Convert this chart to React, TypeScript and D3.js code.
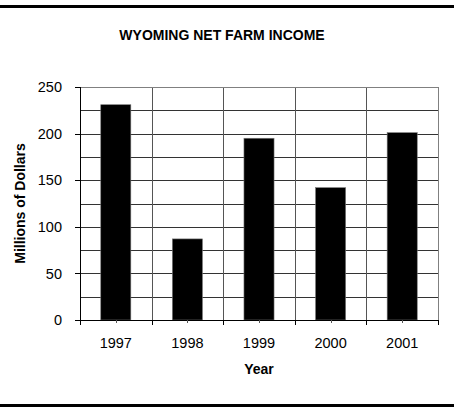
import React from "react";
import * as d3 from "d3";

const years = ["1997", "1998", "1999", "2000", "2001"];
const income = [231, 87, 195, 142, 201];
const yTicks = [0, 50, 100, 150, 200, 250];
const gridValues = [25, 50, 75, 100, 125, 150, 175, 200, 225];

const W = 454;
const H = 407;
const left = 80;
const right = 438;
const top = 87;
const bottom = 320;
const font = "'Liberation Sans', Arial, sans-serif";

export default function App() {
  const x = d3
    .scaleBand<string>()
    .domain(years)
    .range([left, right])
    .paddingInner(0.58)
    .paddingOuter(0.29);
  const y = d3.scaleLinear().domain([0, 250]).range([bottom, top]);
  const step = x.step();
  const boundaries = d3.range(years.length + 1).map((i) => left + i * step);

  return (
    <svg
      width={W}
      height={H}
      style={{ position: "absolute", left: 0, top: 0, background: "#fff" }}
    >
      <rect x={0} y={5} width={W} height={3} fill="#000" />
      <rect x={0} y={404} width={W} height={3} fill="#000" />
      <text
        x={222}
        y={40}
        textAnchor="middle"
        fontFamily={font}
        fontWeight="bold"
        fontSize={14}
      >
        WYOMING NET FARM INCOME
      </text>

      {gridValues.map((v) => (
        <line
          key={"h" + v}
          x1={left}
          x2={right}
          y1={Math.round(y(v)) + 0.5}
          y2={Math.round(y(v)) + 0.5}
          stroke="#333"
          strokeWidth={1}
        />
      ))}
      {boundaries.slice(1, -1).map((b, i) => (
        <line
          key={"v" + i}
          x1={Math.round(b) + 0.5}
          x2={Math.round(b) + 0.5}
          y1={top}
          y2={bottom}
          stroke="#555"
          strokeWidth={1}
        />
      ))}
      <line x1={left} x2={right + 0.5} y1={top + 0.5} y2={top + 0.5} stroke="#808080" />
      <line x1={right + 0.5} x2={right + 0.5} y1={top} y2={bottom} stroke="#808080" />

      {years.map((yr, i) => (
        <rect
          key={yr}
          x={x(yr)}
          y={y(income[i])}
          width={x.bandwidth()}
          height={bottom - y(income[i])}
          fill="#000"
          stroke="#777"
          strokeWidth={0.6}
        />
      ))}

      <line x1={left + 0.5} x2={left + 0.5} y1={top} y2={bottom} stroke="#000" />
      <line x1={left} x2={right + 1} y1={bottom + 0.5} y2={bottom + 0.5} stroke="#000" />
      {yTicks.map((t) => (
        <g key={"yt" + t}>
          <line
            x1={left - 5}
            x2={left}
            y1={Math.round(y(t)) + 0.5}
            y2={Math.round(y(t)) + 0.5}
            stroke="#000"
          />
          <text
            x={62}
            y={y(t)}
            dy="0.36em"
            textAnchor="end"
            fontFamily={font}
            fontSize={14.5}
          >
            {t}
          </text>
        </g>
      ))}
      {boundaries.map((b, i) => (
        <line
          key={"xt" + i}
          x1={Math.round(b) + 0.5}
          x2={Math.round(b) + 0.5}
          y1={bottom}
          y2={bottom + 5}
          stroke="#000"
        />
      ))}
      {years.map((yr) => {
        const cx = (x(yr) as number) + x.bandwidth() / 2;
        return (
          <g key={"xl" + yr}>
            <line
              x1={Math.round(cx) + 0.5}
              x2={Math.round(cx) + 0.5}
              y1={bottom}
              y2={bottom + 3}
              stroke="#555"
            />
            <text
              x={cx}
              y={348}
              textAnchor="middle"
              fontFamily={font}
              fontSize={14.5}
            >
              {yr}
            </text>
          </g>
        );
      })}
      <text
        x={(left + right) / 2}
        y={374}
        textAnchor="middle"
        fontFamily={font}
        fontWeight="bold"
        fontSize={14}
      >
        Year
      </text>
      <text
        transform={`translate(25, ${(top + bottom) / 2}) rotate(-90)`}
        textAnchor="middle"
        fontFamily={font}
        fontWeight="bold"
        fontSize={14}
      >
        Millions of Dollars
      </text>
    </svg>
  );
}
